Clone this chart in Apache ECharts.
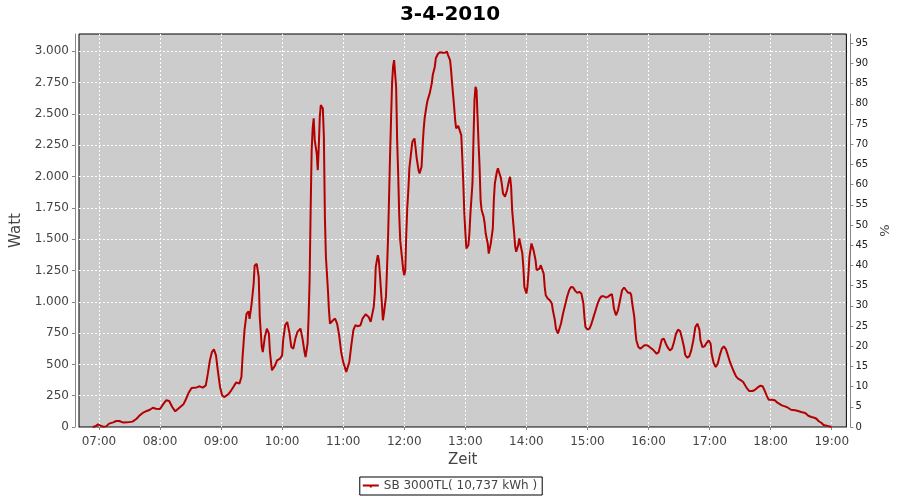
<!DOCTYPE html>
<html>
<head>
<meta charset="utf-8">
<script src="https://cdn.jsdelivr.net/npm/echarts@6/dist/echarts.min.js"></script>
<style>html,body{margin:0;padding:0;background:#fff}#c{width:900px;height:500px}</style>
</head>
<body>
<div id="c"></div>
<script>
var titleText = '3-4-2010';
var seriesName = 'SB 3000TL( 10,737 kWh )';
var xAxisName = 'Zeit';
var yAxisName = 'Watt';
var y2AxisName = '%';
var hourTicks = ['07:00','08:00','09:00','10:00','11:00','12:00','13:00','14:00','15:00','16:00','17:00','18:00','19:00'];
var wattTicks = [0,250,500,750,1000,1250,1500,1750,2000,2250,2500,2750,3000];
var pctTicks = [0,5,10,15,20,25,30,35,40,45,50,55,60,65,70,75,80,85,90,95];

var times = [
'06:54','06:57','06:59','07:01','07:04','07:07','07:10','07:14','07:17','07:20','07:24','07:28','07:33','07:37','07:40','07:43','07:47','07:50','07:53','07:56',
'08:00','08:03','08:06','08:09','08:12','08:15','08:19','08:23','08:25','08:28','08:31','08:36','08:39','08:42','08:45','08:47','08:49','08:51','08:53','08:55','08:57','08:59',
'09:01','09:03','09:07','09:10','09:13','09:15','09:18','09:20','09:21','09:23','09:25','09:27','09:28','09:30','09:32','09:33','09:35','09:37','09:38','09:40','09:41','09:43','09:45','09:47','09:48','09:50','09:53','09:55','09:58',
'10:00','10:01','10:03','10:05','10:07','10:09','10:11','10:13','10:15','10:18','10:20','10:22','10:23','10:25','10:26','10:27','10:28','10:29','10:30','10:31','10:32','10:34','10:35','10:36','10:37','10:38','10:40','10:41','10:42','10:43','10:45','10:46','10:47','10:50','10:52','10:54','10:56','10:58',
'11:00','11:03','11:04','11:06','11:08','11:10','11:12','11:14','11:17','11:19','11:22','11:25','11:27','11:28','11:30','11:31','11:32','11:34','11:35','11:36','11:38','11:39','11:40','11:42','11:43','11:44','11:45','11:46','11:47','11:48','11:49','11:50','11:52','11:53','11:54','11:55','11:56','11:58','11:59',
'12:00','12:01','12:02','12:03','12:04','12:05','12:07','12:08','12:10','12:11','12:12','12:14','12:15','12:17','12:18','12:19','12:20','12:22','12:23','12:25','12:27','12:28','12:30','12:31','12:33','12:35','12:38','12:40','12:42','12:43','12:45','12:46','12:47','12:49','12:50','12:51','12:53','12:54','12:56','12:57','12:58','12:59',
'13:00','13:01','13:03','13:04','13:05','13:07','13:08','13:09','13:10','13:11','13:12','13:13','13:14','13:15','13:16','13:18','13:19','13:20','13:22','13:23','13:24','13:25','13:27','13:28','13:29','13:31','13:32','13:33','13:35','13:36','13:37','13:39','13:40','13:41','13:43','13:44','13:45','13:46','13:48','13:49','13:50','13:52','13:53','13:54','13:56','13:57','13:58',
'14:00','14:01','14:02','14:03','14:05','14:06','14:07','14:09','14:10','14:11','14:13','14:14','14:15','14:17','14:18','14:19','14:21','14:23','14:25','14:26','14:28','14:29','14:31','14:32','14:34','14:36','14:38','14:40','14:42','14:44','14:46','14:48','14:50','14:52','14:54','14:56','14:57','14:58',
'15:00','15:02','15:04','15:06','15:08','15:10','15:12','15:14','15:16','15:18','15:20','15:22','15:24','15:25','15:26','15:28','15:30','15:32','15:34','15:36','15:38','15:40','15:42','15:43','15:44','15:46','15:47','15:48','15:50','15:52','15:54','15:56','15:58',
'16:00','16:02','16:05','16:08','16:10','16:12','16:13','16:15','16:17','16:19','16:21','16:23','16:25','16:27','16:29','16:31','16:33','16:35','16:36','16:38','16:40','16:42','16:44','16:46','16:48','16:49','16:50','16:51','16:53','16:55','16:57','16:59',
'17:01','17:02','17:04','17:06','17:08','17:10','17:12','17:14','17:16','17:18','17:20','17:22','17:24','17:26','17:28','17:31','17:33','17:35','17:37','17:39','17:42','17:44','17:47','17:50','17:52','17:54','17:56','17:58',
'18:01','18:04','18:07','18:11','18:14','18:17','18:20','18:24','18:27','18:30','18:34','18:37','18:40','18:43','18:45','18:47','18:50','18:52','18:55','18:58','19:00'
];
var watts = [
0,8,21,13,3,5,27,37,48,48,35,37,43,66,93,112,128,138,154,146,
144,181,213,207,160,125,154,181,213,271,311,316,325,314,332,426,532,598,620,572,439,319,
253,239,261,293,332,356,346,399,545,771,904,923,864,984,1144,1290,1303,1197,878,638,598,718,785,745,598,453,490,532,546,
573,693,813,839,759,639,626,706,759,786,706,599,559,666,879,1172,1730,2211,2384,2464,2291,2184,2051,2238,2478,2571,2544,2318,1678,1359,1092,932,826,852,866,826,733,599,
519,440,453,519,653,773,813,805,813,866,900,879,839,852,959,1066,1279,1372,1332,1225,986,852,906,1039,1252,1492,1811,2158,2451,2744,2877,2930,2717,2291,2025,1705,1492,1332,1252,
1212,1252,1545,1758,1891,2065,2211,2278,2304,2238,2158,2051,2025,2078,2238,2371,2464,2571,2611,2664,2744,2810,2877,2944,2978,2992,2989,2989,2997,2970,2930,2850,2744,2557,2451,2384,2404,2411,2331,2150,1950,1705,
1558,1425,1452,1545,1705,1945,2291,2611,2717,2691,2478,2264,2078,1811,1732,1678,1625,1545,1465,1385,1385,1465,1585,1811,1945,2038,2065,2038,1985,1931,1865,1838,1838,1891,1971,1998,1918,1732,1545,1439,1399,1452,1505,1492,1385,1279,1119,
1066,1119,1225,1359,1465,1465,1412,1332,1252,1239,1265,1292,1279,1225,1119,1052,1026,1012,986,932,852,786,746,759,826,906,972,1039,1092,1119,1114,1087,1071,1079,1066,986,879,799,
778,786,826,879,932,986,1026,1044,1044,1034,1039,1052,1060,1012,946,892,932,1012,1092,1114,1092,1071,1071,1052,986,879,773,693,639,626,639,653,653,
645,633,612,585,598,665,697,705,665,633,612,625,678,745,777,766,705,633,577,553,564,612,692,798,825,838,777,692,638,644,670,692,
665,585,511,479,505,572,625,644,622,572,519,479,439,404,386,372,359,332,306,287,287,293,314,330,325,293,253,218,
218,213,192,173,165,154,138,133,128,120,112,90,80,74,66,48,32,16,11,5,0
];

function toMin(s){var p=s.split(':');return (+p[0])*60+(+p[1]);}
function fmtMin(v){var h=Math.floor(v/60),m=Math.round(v-h*60);return (h<10?'0':'')+h+':'+(m<10?'0':'')+m;}
function fmtWatt(v){return v>=1000?Math.floor(v/1000)+'.'+String(v%1000).padStart(3,'0'):String(v);}

var data = times.map(function(t,i){return [toMin(t), watts[i]];});
var hourVals = hourTicks.map(toMin);
var font = 'DejaVu Sans';

var chart = echarts.init(document.getElementById('c'), null, {renderer:'canvas'});
chart.setOption({
  animation:false,
  backgroundColor:'#ffffff',
  textStyle:{fontFamily:font},
  title:{text:titleText,left:'center',top:0,textStyle:{fontFamily:font,fontSize:20,fontWeight:'bold',color:'#000'}},
  legend:{
    data:[{name:seriesName,icon:'path://M0,4L16,4L16,6L9,6L9,7L7,7L7,6L0,6Z'}],top:477,left:'center',
    padding:[3,5,3,3],borderColor:'#000',borderWidth:1,
    itemWidth:16,itemHeight:7,itemGap:5,
    textStyle:{fontFamily:font,fontSize:12,color:'#444'}
  },
  grid:{left:79,right:52,top:34,bottom:73,show:true,backgroundColor:'#cccccc',borderColor:'#000',borderWidth:1,containLabel:false},
  xAxis:{
    type:'value',min:400.4,max:1154.4,offset:4,
    name:xAxisName,nameLocation:'middle',nameGap:22,
    nameTextStyle:{fontFamily:font,fontSize:15,color:'#444'},
    axisLine:{show:true,lineStyle:{color:'#888',width:1}},
    axisTick:{show:true,length:3,lineStyle:{color:'#888'},customValues:hourVals},
    axisLabel:{customValues:hourVals,formatter:fmtMin,fontFamily:font,fontSize:12,color:'#444',margin:5},
    splitLine:{show:true,lineStyle:{color:'#ffffff',type:[2,2],width:1}}
  },
  yAxis:[{
    type:'value',min:0,max:3138,position:'left',offset:4,
    name:yAxisName,nameLocation:'middle',nameGap:48,nameRotate:90,
    nameTextStyle:{fontFamily:font,fontSize:15,color:'#444'},
    axisLine:{show:true,lineStyle:{color:'#888',width:1}},
    axisTick:{show:true,length:3,lineStyle:{color:'#888'},customValues:wattTicks},
    axisLabel:{customValues:wattTicks,formatter:fmtWatt,fontFamily:font,fontSize:12,color:'#444',margin:6},
    splitLine:{show:true,lineStyle:{color:'#ffffff',type:[2,2],width:1}}
  },{
    type:'value',min:0,max:97.3,position:'right',offset:4,
    name:y2AxisName,nameLocation:'middle',nameGap:24,nameRotate:90,
    nameTextStyle:{fontFamily:font,fontSize:13,color:'#444'},
    axisLine:{show:true,lineStyle:{color:'#888',width:1}},
    axisTick:{show:true,length:3,lineStyle:{color:'#888'},customValues:pctTicks},
    axisLabel:{customValues:pctTicks,fontFamily:font,fontSize:10,color:'#222',margin:5},
    splitLine:{show:false}
  }],
  series:[{
    name:seriesName,type:'line',data:data,yAxisIndex:0,
    showSymbol:false,symbol:'none',smooth:false,
    lineStyle:{color:'#b40000',width:2},itemStyle:{color:'#b40000'}
  }]
});
</script>
</body>
</html>
